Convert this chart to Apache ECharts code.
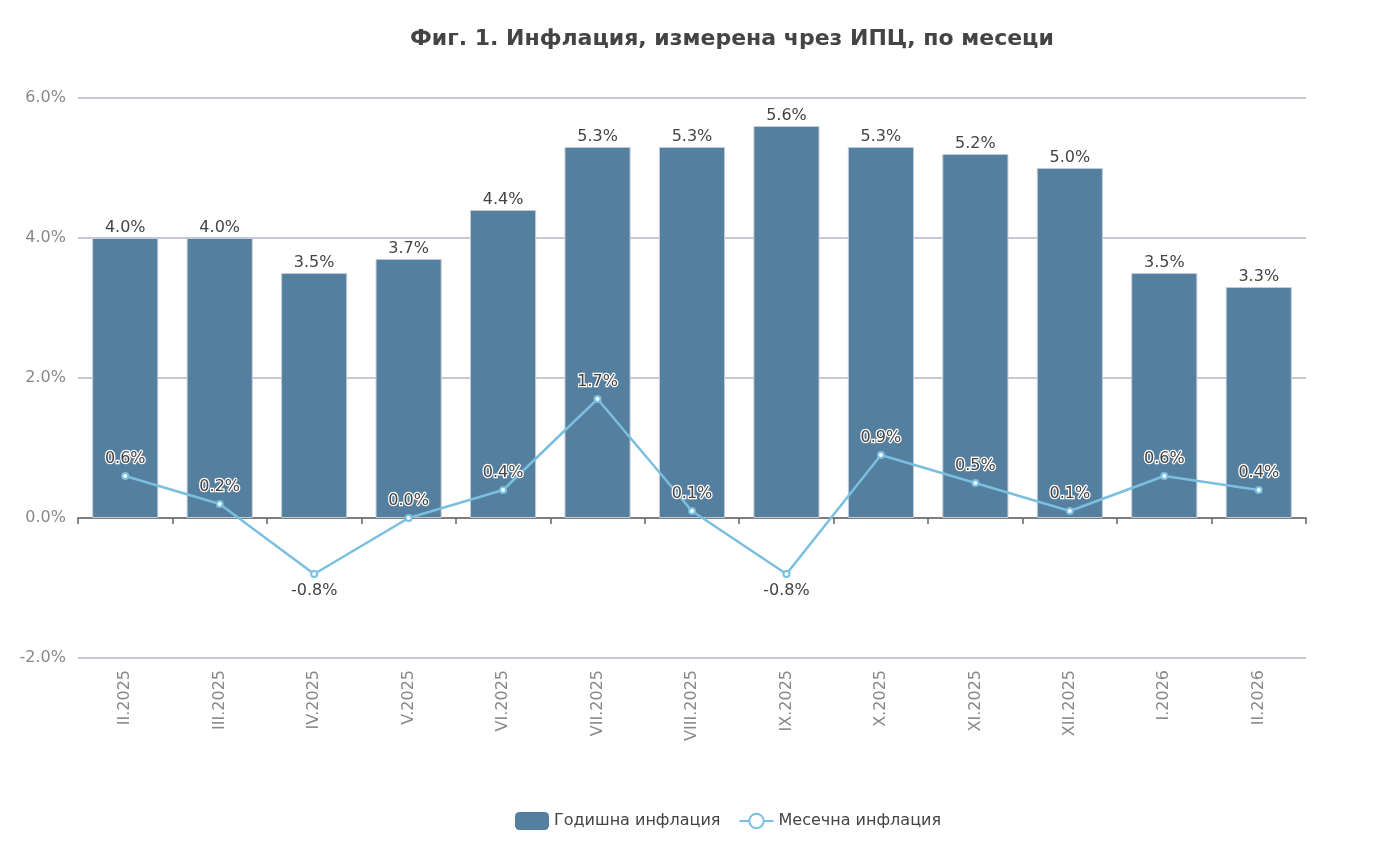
<!DOCTYPE html>
<html lang="bg">
<head>
    <meta charset="UTF-8">
    <title>Инфлация по месеци</title>
    <script src="https://cdn.jsdelivr.net/npm/echarts@6/dist/echarts.min.js"></script>
    <style>
        html, body { margin: 0; padding: 0; background: #fff; }
        #chart { width: 1397px; height: 860px; }
    </style>
</head>
<body>
<div id="chart"></div>
<script type="text/javascript">
    var months = ['II.2025', 'III.2025', 'IV.2025', 'V.2025', 'VI.2025', 'VII.2025', 'VIII.2025',
        'IX.2025', 'X.2025', 'XI.2025', 'XII.2025', 'I.2026', 'II.2026'];
    var annual = [4.0, 4.0, 3.5, 3.7, 4.4, 5.3, 5.3, 5.6, 5.3, 5.2, 5.0, 3.5, 3.3];
    var monthly = [0.6, 0.2, -0.8, 0.0, 0.4, 1.7, 0.1, -0.8, 0.9, 0.5, 0.1, 0.6, 0.4];

    var font = 'DejaVu Sans';
    var pct = function (v) { return v.toFixed(1) + '%'; };

    // negative monthly values get their label underneath
    var monthlyData = monthly.map(function (v) {
        return {value: v, label: {position: v < 0 ? 'bottom' : 'top'}};
    });

    var myChart = echarts.init(document.getElementById('chart'));
    var option = {
        animation: false,
        textStyle: {fontFamily: font},
        title: {
            text: 'Фиг. 1. Инфлация, измерена чрез ИПЦ, по месеци',
            left: 405,
            top: 23,
            textStyle: {fontFamily: font, fontSize: 22, fontWeight: 'bold', color: '#444'}
        },
        legend: {
            bottom: 25,
            left: 510,
            itemWidth: 34,
            itemHeight: 18,
            itemGap: 18,
            textStyle: {fontFamily: font, fontSize: 16, color: '#444'},
            data: [
                {name: 'Годишна инфлация', icon: 'roundRect', itemStyle: {borderWidth: 0}},
                {name: 'Месечна инфлация'}
            ]
        },
        grid: {left: 78, right: 91, top: 98, bottom: 202},
        xAxis: [{
            type: 'category',
            data: months,
            position: 'bottom',
            axisLine: {onZero: true, lineStyle: {color: '#666', width: 1.5}},
            axisTick: {show: true, length: 6, lineStyle: {color: '#666', width: 1.5}},
            axisLabel: {show: false}
        }, {
            type: 'category',
            data: months,
            position: 'bottom',
            axisLine: {show: false, onZero: false},
            axisTick: {show: false},
            axisLabel: {
                rotate: 90,
                margin: 12,
                fontFamily: font,
                fontSize: 16,
                color: '#888'
            }
        }],
        yAxis: {
            type: 'value',
            min: -2,
            max: 6,
            interval: 2,
            axisLine: {show: false},
            axisTick: {show: false},
            axisLabel: {
                formatter: pct,
                margin: 12,
                fontFamily: font,
                fontSize: 16,
                color: '#888'
            },
            splitLine: {lineStyle: {color: '#b4b6c4', width: 1.5}}
        },
        series: [{
            name: 'Годишна инфлация',
            type: 'bar',
            data: annual,
            barWidth: '70%',
            itemStyle: {color: '#557f9e', borderColor: '#c3ccd6', borderWidth: 1},
            label: {
                show: true,
                position: 'top',
                distance: 2,
                formatter: function (p) { return pct(p.value); },
                fontFamily: font,
                fontSize: 16,
                color: '#444',
                textBorderColor: '#fff',
                textBorderWidth: 2
            }
        }, {
            name: 'Месечна инфлация',
            type: 'line',
            data: monthlyData,
            z: 5,
            symbol: 'emptyCircle',
            symbolSize: 6,
            lineStyle: {color: '#7bbfe0', width: 2.5},
            itemStyle: {color: '#7bbfe0', borderWidth: 2},
            label: {
                show: true,
                distance: 5,
                formatter: function (p) { return pct(p.value); },
                fontFamily: font,
                fontSize: 16,
                color: '#444',
                textBorderColor: '#fff',
                textBorderWidth: 2.5
            }
        }]
    };
    myChart.setOption(option);
</script>
</body>
</html>
